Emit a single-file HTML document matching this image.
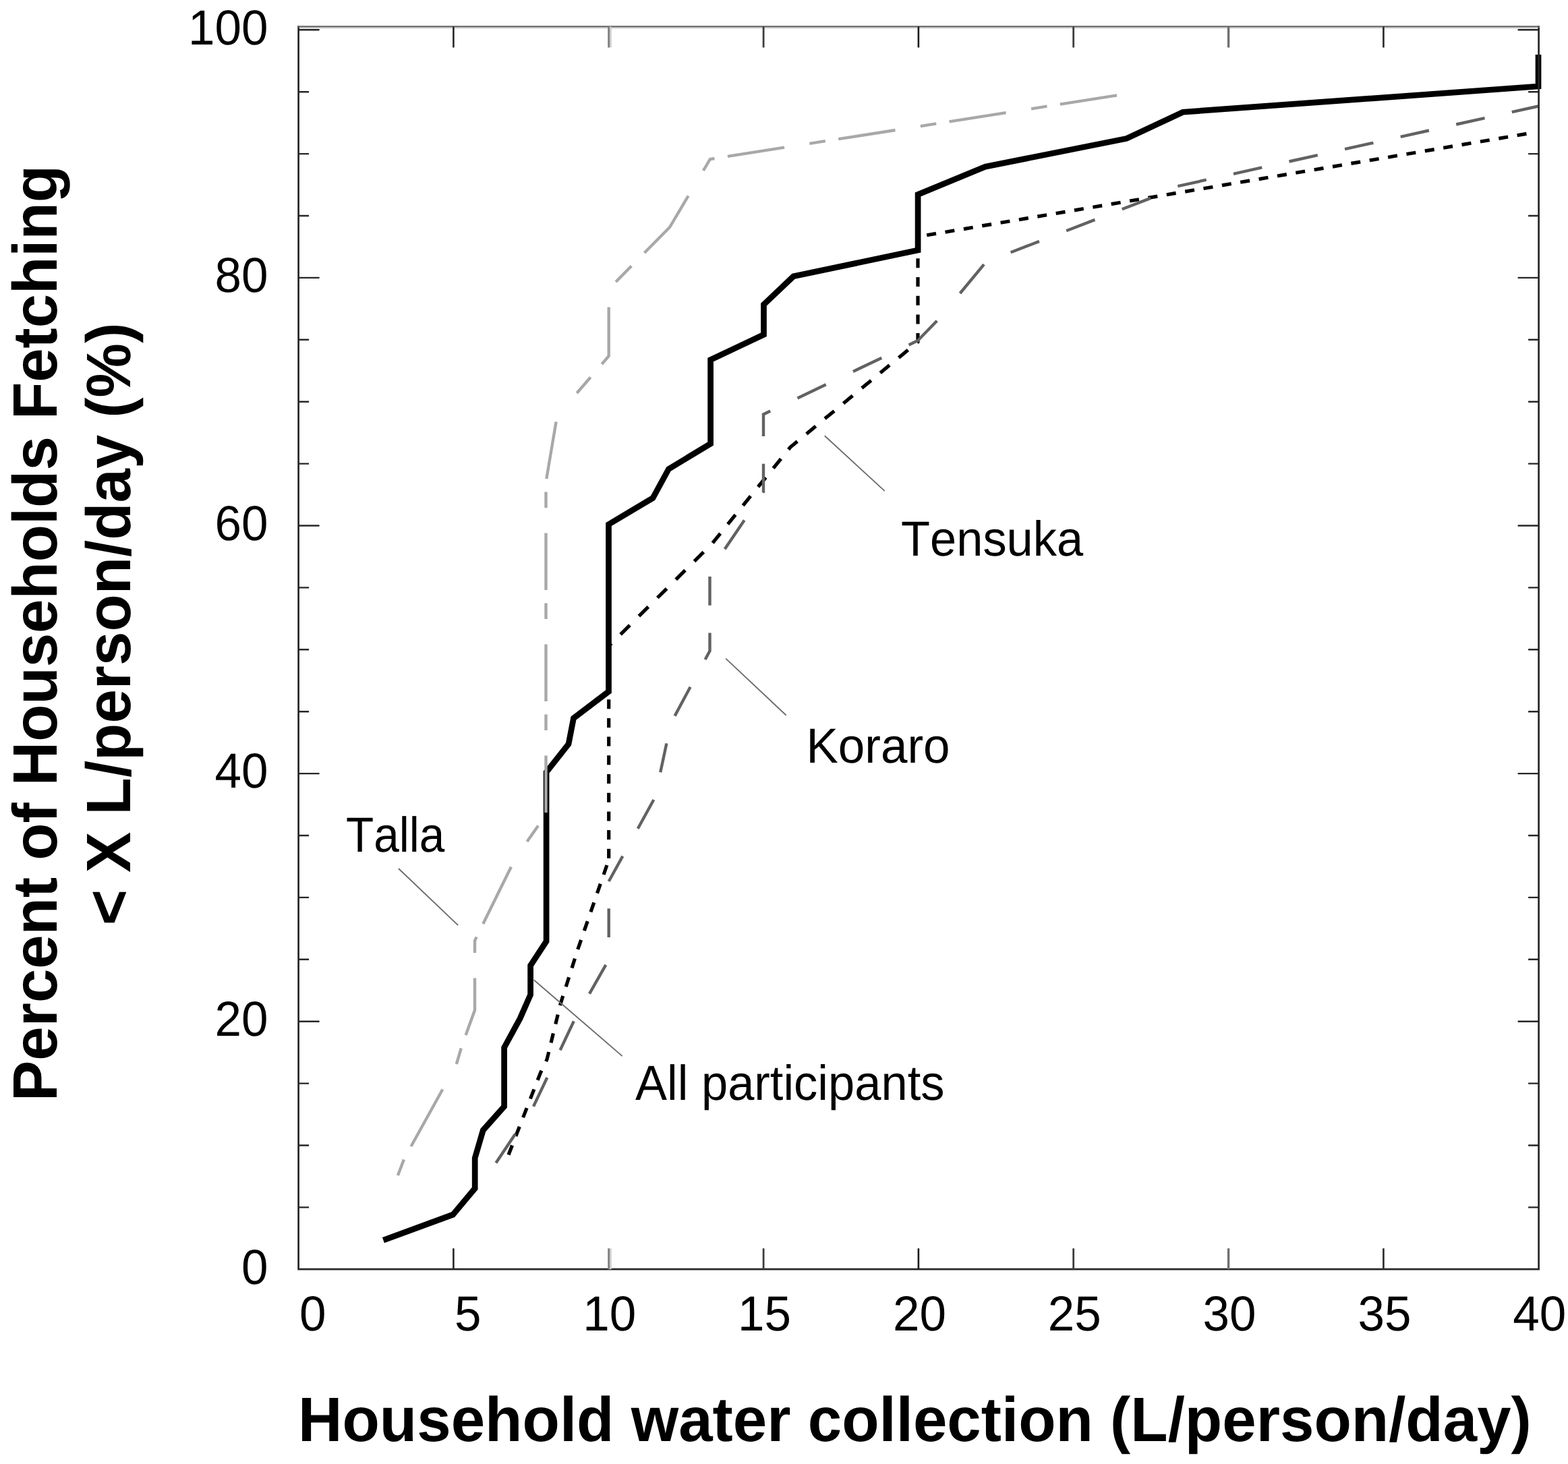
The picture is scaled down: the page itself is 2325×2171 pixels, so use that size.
<!DOCTYPE html>
<html lang="en">
<head>
<meta charset="utf-8">
<title>Household water collection</title>
<style>
html,body{margin:0;padding:0;background:#fff;}
body{width:2325px;height:2171px;overflow:hidden;}
svg{display:block;}
</style>
</head>
<body>
<svg width="2325" height="2171" viewBox="0 0 2325 2171">
<rect width="2325" height="2171" fill="#fff"/>
<g>
<g fill="none" stroke-linecap="butt" stroke-linejoin="miter">
<path d="M568.4 1839.1 L671.6 1801.2 L704.2 1762.4 L704.2 1717.3 L716.3 1676.0 L747.6 1640.8 L747.6 1553.5 L771.0 1510.5 L786.6 1475.0 L786.6 1431.8 L810.1 1396.0 L810.1 1145.0 L843.0 1103.5 L850.5 1065.0 L902.5 1025.5 L902.5 777.6 L968.0 738.5 L991.5 695.5 L1053.6 658.0 L1053.6 533.6 L1132.5 496.2 L1132.5 451.5 L1176.5 409.8 L1361.1 371.0 L1361.1 288.4 L1461.0 247.2 L1670.5 205.4 L1754.0 166.2 L2281.0 128.0 L2281.0 81.0" stroke="#000" stroke-width="8.7"/>
<path d="M754.0 1712.5 L759.5 1698.5 M764.8 1684.8 L770.3 1670.8 M775.6 1657.1 L781.1 1643.1 M786.4 1629.4 L791.9 1615.4 M797.2 1601.7 L801.0 1592.0 L803.0 1587.7 M809.6 1574.0 L811.0 1571.0 L813.7 1560.0 M817.0 1546.3 L820.4 1532.3 M823.8 1518.6 L827.2 1504.6 M830.5 1490.9 L831.0 1489.0 L834.8 1476.9 M839.2 1463.2 L843.6 1449.2 M848.0 1435.5 L852.4 1421.5 M856.7 1407.8 L857.0 1407.0 L861.6 1393.8 M866.3 1380.1 L871.2 1366.1 M875.9 1352.4 L880.8 1338.4 M885.5 1324.7 L890.3 1310.7 M895.1 1297.0 L899.9 1283.0 M902.7 1272.8 L902.7 1258.8 M902.7 1245.1 L902.7 1231.1 M902.7 1217.4 L902.7 1203.4 M902.7 1189.7 L902.7 1175.7 M902.7 1162.0 L902.7 1148.0 M902.7 1134.3 L902.7 1120.3 M902.7 1106.6 L902.7 1092.6 M902.7 1078.9 L902.7 1064.9 M902.7 1051.2 L902.7 1037.2 M902.7 1023.5 L902.7 1009.5 M902.7 995.8 L902.7 981.8 M902.7 968.1 L902.7 958.0 L906.6 954.2 M920.1 940.8 L933.9 927.1 M947.4 913.6 L961.3 899.9 M974.8 886.5 L988.6 872.8 M1002.2 859.4 L1016.0 845.7 M1029.5 832.3 L1043.3 818.6 M1056.7 805.1 L1068.1 791.1 M1079.2 777.4 L1090.5 763.4 M1101.7 749.7 L1113.0 735.7 M1124.1 722.0 L1135.5 708.0 M1146.6 694.3 L1158.0 680.3 M1169.1 666.6 L1172.0 663.0 L1182.3 654.5 M1195.8 643.4 L1209.6 632.0 M1223.1 620.8 L1237.0 609.4 M1250.5 598.2 L1264.3 586.8 M1277.9 575.6 L1291.7 564.2 M1305.2 553.0 L1319.0 541.6 M1332.6 530.5 L1346.4 519.0 M1359.9 507.9 L1361.0 507.0 L1361.0 494.1 M1361.0 480.4 L1361.0 466.4 M1361.0 452.7 L1361.0 438.7 M1361.0 425.0 L1361.0 411.0 M1361.0 397.3 L1361.0 383.3 M1361.0 369.6 L1361.0 355.6 M1374.2 348.8 L1388.0 346.4 M1401.5 344.2 L1415.3 341.8 M1428.9 339.6 L1442.7 337.2 M1456.2 334.9 L1470.1 332.6 M1483.6 330.3 L1497.4 328.0 M1510.9 325.7 L1524.8 323.4 M1538.3 321.1 L1552.1 318.8 M1565.7 316.5 L1579.5 314.1 M1593.0 311.9 L1606.8 309.5 M1620.4 307.2 L1634.2 304.9 M1647.7 302.6 L1661.6 300.3 M1675.1 298.0 L1688.9 295.7 M1702.5 293.4 L1716.3 291.1 M1729.8 288.8 L1743.6 286.4 M1757.2 284.1 L1771.0 281.8 M1784.5 279.5 L1798.4 277.2 M1811.9 274.9 L1825.7 272.5 M1839.2 270.2 L1853.1 267.9 M1866.6 265.6 L1880.4 263.3 M1894.0 261.0 L1907.8 258.6 M1921.3 256.3 L1935.1 254.0 M1948.7 251.7 L1962.5 249.4 M1976.0 247.1 L1989.9 244.7 M2003.4 242.4 L2017.2 240.1 M2030.7 237.8 L2044.6 235.5 M2058.1 233.2 L2071.9 230.8 M2085.5 228.5 L2099.3 226.2 M2112.8 223.9 L2126.7 221.6 M2140.2 219.3 L2154.0 216.9 M2167.5 214.6 L2181.4 212.3 M2194.9 210.0 L2208.7 207.7 M2222.3 205.4 L2236.1 203.0 M2249.6 200.8 L2263.4 198.4" stroke="#000" stroke-width="5.2"/>
<path d="M735.4 1724.4 L764.1 1681.6 M791.0 1640.8 L811.3 1598.0 M830.6 1557.2 L850.8 1514.4 M874.0 1473.6 L898.3 1430.8 M902.7 1390.0 L902.7 1347.2 M902.7 1307.0 L923.3 1269.6 M945.8 1228.8 L969.3 1186.0 M979.2 1145.2 L988.4 1102.4 M1000.6 1061.6 L1023.6 1018.8 M1045.6 978.0 L1052.5 965.2 L1052.5 938.6 M1052.5 897.8 L1052.5 855.0 M1074.7 814.2 L1103.7 771.4 M1131.3 730.6 L1132.0 729.5 L1132.0 687.8 M1132.0 647.0 L1132.0 614.5 L1142.2 609.6 M1182.5 590.4 L1224.7 570.2 M1265.0 550.9 L1307.3 530.7 M1347.6 511.4 L1361.0 505.0 L1389.3 475.8 M1423.5 435.0 L1459.0 392.2 M1498.7 374.3 L1541.0 357.9 M1581.2 342.3 L1623.5 325.9 M1663.8 310.3 L1706.1 293.9 M1746.4 276.1 L1788.7 266.7 M1829.0 257.8 L1871.2 248.4 M1911.5 239.5 L1953.8 230.1 M1994.1 221.2 L2036.4 211.8 M2076.7 202.8 L2118.9 193.5 M2159.2 184.5 L2201.5 175.1 M2241.8 166.2 L2281.0 157.5" stroke="#626262" stroke-width="4.4"/>
<path d="M589.9 1743.0 L598.9 1719.5 M609.5 1700.0 L656.3 1615.5 M676.8 1578.0 L683.8 1554.5 M690.6 1535.0 L704.0 1498.0 L704.0 1450.5 M704.0 1413.0 L704.0 1395.0 L706.7 1389.5 M716.3 1370.0 L757.9 1285.5 M781.5 1248.0 L798.0 1224.5 M809.5 1205.0 L809.5 1120.5 M809.5 1083.0 L809.5 1059.5 M809.5 1040.0 L809.5 955.5 M809.5 918.0 L809.5 894.5 M809.5 875.0 L809.5 790.5 M809.5 753.0 L809.5 729.5 M810.3 710.0 L824.6 625.5 M855.3 583.0 L875.6 559.5 M892.4 540.0 L902.7 528.0 L902.7 455.5 M913.1 418.0 L936.3 394.5 M955.5 375.0 L993.0 337.0 L1020.6 290.5 M1042.9 253.0 L1053.0 236.0 L1059.5 235.0 M1078.9 231.9 L1163.1 218.7 M1200.4 212.9 L1223.8 209.2 M1243.2 206.2 L1327.4 193.0 M1364.8 187.1 L1388.2 183.4 M1407.6 180.4 L1491.7 167.2 M1529.1 161.3 L1552.5 157.7 M1571.9 154.6 L1656.1 141.4" stroke="#a8a8a8" stroke-width="4.4"/>
<line x1="1222.8" y1="646.3" x2="1311.8" y2="728.1" stroke="#6c6c6c" stroke-width="1.9"/>
<line x1="1076.2" y1="976.6" x2="1165.7" y2="1060.7" stroke="#6c6c6c" stroke-width="1.9"/>
<line x1="591" y1="1288" x2="679.2" y2="1372.1" stroke="#6c6c6c" stroke-width="1.9"/>
<line x1="791.7" y1="1453.2" x2="922.7" y2="1566.1" stroke="#6c6c6c" stroke-width="1.9"/>
</g>
<g fill="none" stroke="#262626" stroke-width="2.7">
<path d="M442.6 38.15 V1882.2 H2281.6 V38.15" stroke-linejoin="miter"/>
<path d="M441.25 39.5 H2282.95" stroke="#666" stroke-width="2.6"/>
<path d="M444.0 41.9 H2280.2" stroke="#e2e2e2" stroke-width="2.4"/>
<path d="M442.6 1790.4 h15.5 M2281.6 1790.4 h-15.5 M442.6 1698.5 h15.5 M2281.6 1698.5 h-15.5 M442.6 1606.6 h15.5 M2281.6 1606.6 h-15.5 M442.6 1514.7 h31 M2281.6 1514.7 h-31 M442.6 1422.8 h15.5 M2281.6 1422.8 h-15.5 M442.6 1330.9 h15.5 M2281.6 1330.9 h-15.5 M442.6 1239.0 h15.5 M2281.6 1239.0 h-15.5 M442.6 1147.1 h31 M2281.6 1147.1 h-31 M442.6 1055.2 h15.5 M2281.6 1055.2 h-15.5 M442.6 963.3 h15.5 M2281.6 963.3 h-15.5 M442.6 871.4 h15.5 M2281.6 871.4 h-15.5 M442.6 779.5 h31 M2281.6 779.5 h-31 M442.6 687.6 h15.5 M2281.6 687.6 h-15.5 M442.6 595.7 h15.5 M2281.6 595.7 h-15.5 M442.6 503.8 h15.5 M2281.6 503.8 h-15.5 M442.6 411.9 h31 M2281.6 411.9 h-31 M442.6 320.0 h15.5 M2281.6 320.0 h-15.5 M442.6 228.1 h15.5 M2281.6 228.1 h-15.5 M442.6 136.2 h15.5 M2281.6 136.2 h-15.5 M442.6 44.3 h31 M2281.6 44.3 h-31" stroke-width="2.4"/>
<path d="M672.4 1882.2 v-31 M672.4 39.5 v31" stroke="#262626" stroke-width="2.6"/>
<path d="M1132.1 1882.2 v-31 M1132.1 39.5 v31" stroke="#3c3c3c" stroke-width="2.8"/>
<path d="M1361.9 1882.2 v-31 M1361.9 39.5 v31" stroke="#1a1a1a" stroke-width="2.6"/>
<path d="M1591.7 1882.2 v-31 M1591.7 39.5 v31" stroke="#3c3c3c" stroke-width="2.8"/>
<path d="M1821.6 1882.2 v-31 M1821.6 39.5 v31" stroke="#707070" stroke-width="3.4"/>
<path d="M2051.4 1882.2 v-31 M2051.4 39.5 v31" stroke="#2e2e2e" stroke-width="2.7"/>
<path d="M902.6 1882.2 v-31 M902.6 39.5 v31" stroke="#808080" stroke-width="2.8"/>
<path d="M905.35 1882.2 v-31 M905.35 39.5 v31" stroke="#cccccc" stroke-width="2.7"/>
</g>
<g font-family="'Liberation Sans', sans-serif" fill="#000" style="font-kerning:none;text-rendering:geometricPrecision">
<g font-size="73" text-anchor="end">
<text x="397.5" y="1903.6" textLength="39.5" lengthAdjust="spacingAndGlyphs">0</text>
<text x="397.5" y="1536.0" textLength="79.0" lengthAdjust="spacingAndGlyphs">20</text>
<text x="397.5" y="1168.4" textLength="79.0" lengthAdjust="spacingAndGlyphs">40</text>
<text x="397.5" y="800.8" textLength="79.0" lengthAdjust="spacingAndGlyphs">60</text>
<text x="397.5" y="433.2" textLength="79.0" lengthAdjust="spacingAndGlyphs">80</text>
<text x="397.5" y="65.6" textLength="118.5" lengthAdjust="spacingAndGlyphs">100</text>
<text x="483.6" y="1972.6" textLength="39.5" lengthAdjust="spacingAndGlyphs">0</text>
<text x="713.4" y="1972.6" textLength="39.5" lengthAdjust="spacingAndGlyphs">5</text>
<text x="943.2" y="1972.6" textLength="79.0" lengthAdjust="spacingAndGlyphs">10</text>
<text x="1173.1" y="1972.6" textLength="79.0" lengthAdjust="spacingAndGlyphs">15</text>
<text x="1402.9" y="1972.6" textLength="79.0" lengthAdjust="spacingAndGlyphs">20</text>
<text x="1632.7" y="1972.6" textLength="79.0" lengthAdjust="spacingAndGlyphs">25</text>
<text x="1862.6" y="1972.6" textLength="79.0" lengthAdjust="spacingAndGlyphs">30</text>
<text x="2092.4" y="1972.6" textLength="79.0" lengthAdjust="spacingAndGlyphs">35</text>
<text x="2322.2" y="1972.6" textLength="79.0" lengthAdjust="spacingAndGlyphs">40</text>
</g>
<g font-size="73">
<text x="1336" y="824" textLength="270.2" lengthAdjust="spacingAndGlyphs">Tensuka</text>
<text x="1195.5" y="1131.3" textLength="213.1" lengthAdjust="spacingAndGlyphs">Koraro</text>
<text x="513" y="1263.3" textLength="146.4" lengthAdjust="spacingAndGlyphs">Talla</text>
<text x="942" y="1630.8" textLength="458.5" lengthAdjust="spacingAndGlyphs">All participants</text>
</g>
<g font-size="93" font-weight="bold">
<text x="442" y="2137" textLength="1828.8" lengthAdjust="spacingAndGlyphs">Household water collection (L/person/day)</text>
<text transform="translate(84 1633) rotate(-90)" textLength="1388" lengthAdjust="spacingAndGlyphs">Percent of Households Fetching</text>
<text transform="translate(192.5 1372) rotate(-90)" textLength="893.3" lengthAdjust="spacingAndGlyphs">&lt; X L/person/day (%)</text>
</g>
</g>
</g>
</svg>
</body>
</html>
